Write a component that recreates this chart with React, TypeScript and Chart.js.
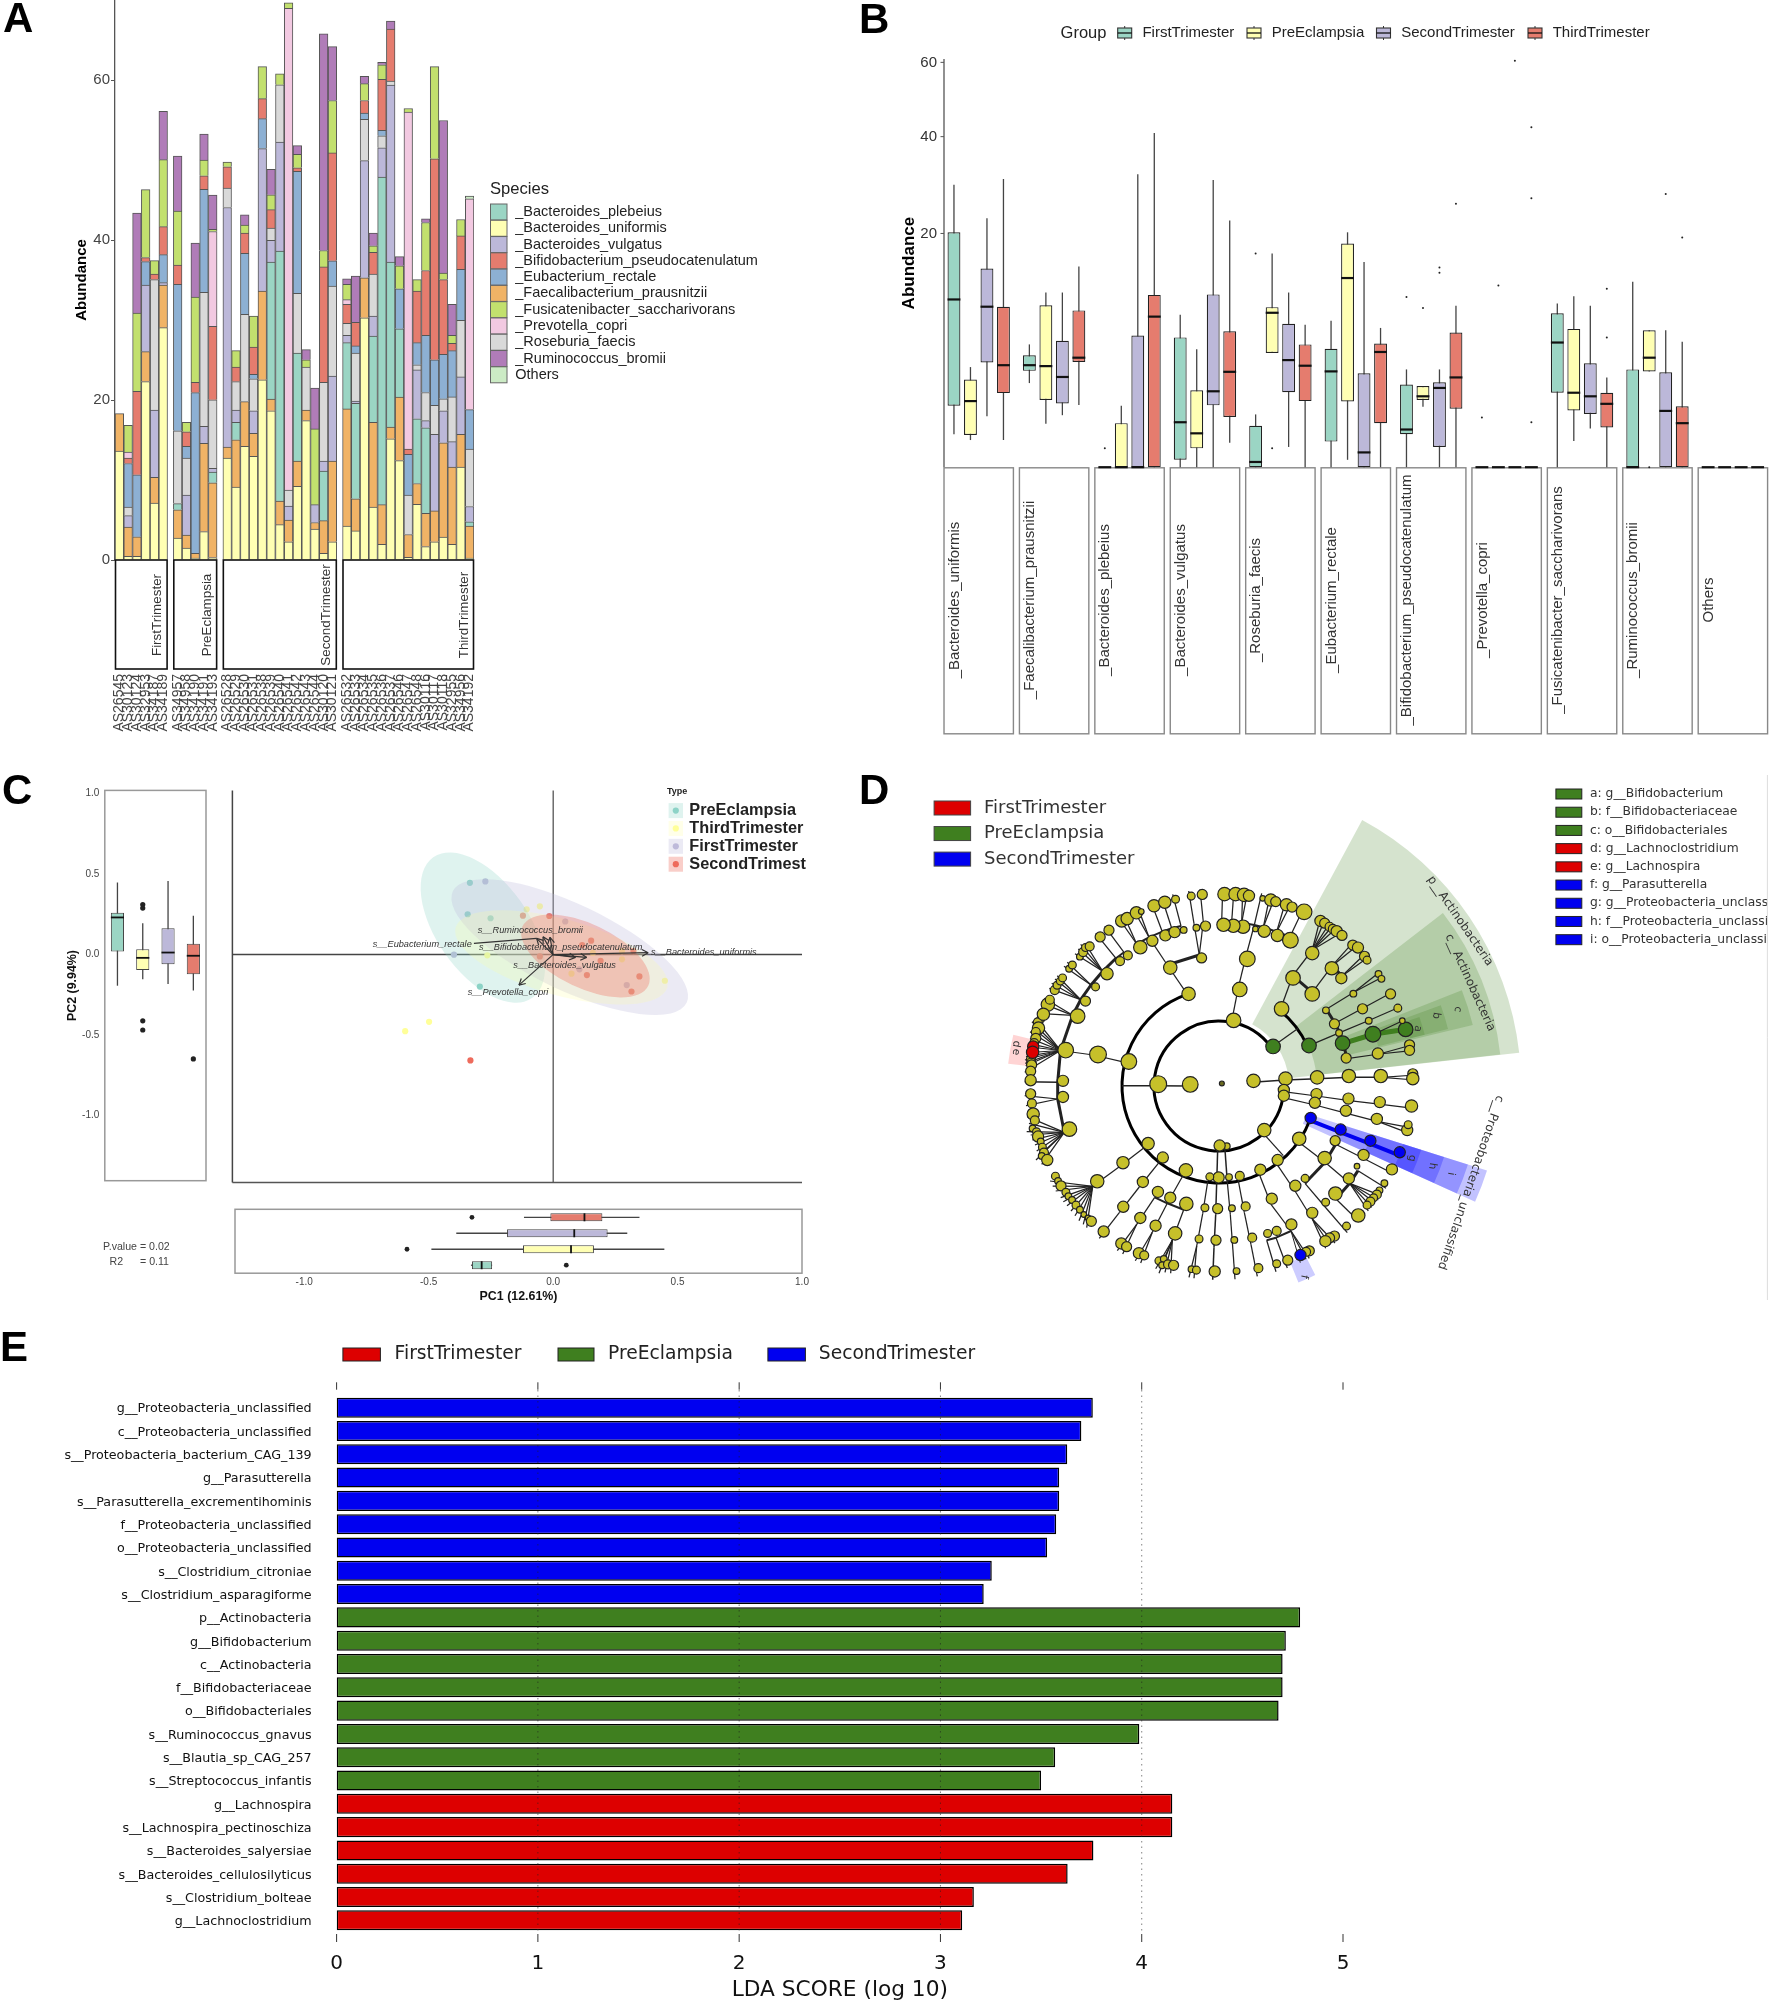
import React, { useEffect, useRef } from "react";
import { Chart, registerables } from "chart.js";

Chart.register(...registerables);
Chart.defaults.font.family = '"Liberation Sans"';
Chart.defaults.plugins.legend.display = false;
Chart.defaults.plugins.tooltip.enabled = false;

const SANS = '"Liberation Sans"';
const DEJAVU = '"DejaVu Sans"';

// ---- panel A: stacked abundance per sample
const sampleGroups = ["FirstTrimester", "PreEclampsia", "SecondTrimester", "ThirdTrimester"];
const groupSizes = [6, 5, 13, 15];
const sampleNames = [
  "AS26545", "AS30123", "AS30124", "AS32953", "AS34187", "AS34189",
  "AS34957", "AS34958", "AS34190", "AS34191", "AS34193",
  "AS26528", "AS26529", "AS26530", "AS26531", "AS26538", "AS26539", "AS26540", "AS26541", "AS26542", "AS26543", "AS26544", "AS30120", "AS30121",
  "AS26532", "AS26533", "AS26534", "AS26535", "AS26536", "AS26537", "AS26546", "AS26547", "AS26548", "AS30116", "AS30117", "AS30118", "AS32955", "AS34956", "AS34192",
];
const uniformis = [13.6, 0.45, 0.45, 22.3, 7.1, 29.04, 2.73, 1.5, 0.23, 3.55, 0.3, 12.74, 9.1, 14.2, 12.97, 22.53, 18.66, 4.42, 2.28, 9.2, 17.43, 3.87, 0.82, 2.28, 4.23, 3.64, 30.27, 6.6, 1.96, 15.16, 12.43, 0.32, 6.96, 1.68, 2.28, 2.87, 1.96, 11.61, 0.23];
const faecali = [4.7, 3.65, 2.45, 3.74, 3.23, 5.33, 3.55, 1.6, 0.6, 11.02, 9.35, 1.36, 5.92, 5.6, 2.87, 11.07, 1.46, 2.95, 2.72, 3.18, 1.32, 0.82, 4.1, 10.1, 14.66, 4.01, 5.01, 10.6, 4.96, 1.45, 7.92, 2.87, 2.6, 4.15, 3.86, 11.79, 9.65, 4.09, 4];
const plebeius = [0, 0, 0, 0, 0, 0, 0.77, 0, 0, 0, 1.35, 0, 2.18, 0, 0, 0, 17.11, 31.23, 0, 13.47, 0, 0, 6.18, 0, 8.28, 11.92, 0, 10.79, 40.96, 20.62, 8.55, 0, 8.1, 10.69, 0, 0, 0, 0, 0.55];
const vulgatus = [0, 1.45, 0, 8.33, 8.42, 0.3, 0, 5, 0, 2.13, 0.47, 29.96, 1.55, 0, 2.82, 17.83, 2.73, 13.65, 1.74, 0, 0, 2.23, 1.28, 10.61, 0.91, 0.3, 14.65, 2.51, 3.64, 22.12, 0, 0, 6.1, 0.91, 9.56, 4, 3.18, 7.19, 1.91];
const roseburia = [0, 1.05, 0, 0, 16.3, 0, 9.11, 4.64, 0, 16.75, 8.56, 2.44, 3.55, 10.92, 4, 0, 1.54, 7.15, 2, 7.47, 5.37, 0, 9.82, 11.24, 1.51, 5.98, 5.14, 5.23, 1.51, 0.5, 0, 4.91, 0.64, 3.51, 3.64, 1.5, 5.6, 7.06, 7.19];
const eubacterium = [0, 5.46, 7.75, 2.93, 0, 3.5, 18.3, 1.46, 20.1, 12.89, 0, 0, 0, 7.6, 0.55, 3.74, 0, 0, 0, 15.25, 0, 0, 0, 3.18, 0, 0.91, 0.78, 0, 0.68, 0, 5.01, 5.1, 2.77, 7.14, 5.69, 5.56, 5.78, 6.37, 4.92];
const bifido = [0, 0.69, 10.42, 0.5, 0.68, 3.5, 2.41, 1.82, 1.27, 1.68, 9.17, 2.66, 1.82, 2.55, 3.42, 2.5, 2.29, 0, 0, 0.45, 0, 0, 14.44, 13.48, 2.36, 2.96, 1.59, 2.73, 6.37, 6.51, 0, 0.68, 6.43, 8.11, 25.13, 9.33, 0.91, 4.19, 0];
const prevotella = [0, 0.75, 0, 0, 0, 0, 0, 0, 0, 0, 11.86, 0, 0, 0, 0, 0, 0, 0, 60.22, 0, 0, 0, 0, 0, 0.59, 0, 0, 0, 0, 0, 0, 42.1, 0, 0, 0, 0, 0, 0, 26.35];
const fusicatenibacter = [0, 3.34, 9.79, 8.5, 1.7, 8.37, 6.73, 1.18, 10.66, 1.96, 0.27, 0.59, 2.05, 1, 3.87, 4.01, 1.86, 1.36, 0.68, 1.68, 0.91, 9.47, 2.05, 6.55, 1.92, 0, 2.1, 0.82, 1.82, 0, 2.87, 0.46, 1.45, 6, 11.52, 0.82, 1, 2.05, 0];
const ruminococcus = [0, 0, 12.52, 0, 0, 6.05, 6.9, 0, 6.74, 3.27, 4.3, 0, 0, 1.28, 0, 0, 3.19, 0, 0, 1.1, 1.27, 5.09, 27.08, 6.74, 0.68, 5.78, 0.91, 1.59, 0.3, 1, 1.14, 0, 0, 0.46, 0, 19.07, 3.87, 0, 0];
const others = [0, 0, 0, 0, 0, 0, 0, 0, 0, 0, 0, 0, 0, 0, 0, 0, 0, 0, 0, 0, 0, 0, 0, 0, 0, 0, 0, 0, 0, 0, 0, 0, 0, 0, 0, 0, 0, 0, 0.35];

const PAL: Record<string, string> = {
  plebeius: "#9BD5C4", uniformis: "#FFFFB3", vulgatus: "#BCB8D9", bifido: "#E57C6E", eubacterium: "#8DB0D3",
  faecali: "#F0B366", fusi: "#C2E06E", prevotella: "#F2C9E1", roseburia: "#D9D9D9", rumino: "#B07CB8", others: "#CCEBC5",
};
const stackOrder: [string, number[], string][] = [
  ["_Bacteroides_uniformis", uniformis, PAL.uniformis],
  ["_Faecalibacterium_prausnitzii", faecali, PAL.faecali],
  ["_Bacteroides_plebeius", plebeius, PAL.plebeius],
  ["_Bacteroides_vulgatus", vulgatus, PAL.vulgatus],
  ["_Roseburia_faecis", roseburia, PAL.roseburia],
  ["_Eubacterium_rectale", eubacterium, PAL.eubacterium],
  ["_Bifidobacterium_pseudocatenulatum", bifido, PAL.bifido],
  ["_Prevotella_copri", prevotella, PAL.prevotella],
  ["_Fusicatenibacter_saccharivorans", fusicatenibacter, PAL.fusi],
  ["_Ruminococcus_bromii", ruminococcus, PAL.rumino],
  ["Others", others, PAL.others],
];
const speciesLegend: [string, string][] = [
  ["_Bacteroides_plebeius", PAL.plebeius], ["_Bacteroides_uniformis", PAL.uniformis], ["_Bacteroides_vulgatus", PAL.vulgatus],
  ["_Bifidobacterium_pseudocatenulatum", PAL.bifido], ["_Eubacterium_rectale", PAL.eubacterium], ["_Faecalibacterium_prausnitzii", PAL.faecali],
  ["_Fusicatenibacter_saccharivorans", PAL.fusi], ["_Prevotella_copri", PAL.prevotella], ["_Roseburia_faecis", PAL.roseburia],
  ["_Ruminococcus_bromii", PAL.rumino], ["Others", PAL.others],
];

// ---- panel B: box plots on a square root axis; each row is low, q1, median, q3, high
const boxSpecies = ["_Bacteroides_uniformis", "_Faecalibacterium_prausnitzii", "_Bacteroides_plebeius", "_Bacteroides_vulgatus", "_Roseburia_faecis", "_Eubacterium_rectale", "_Bifidobacterium_pseudocatenulatum", "_Prevotella_copri", "_Fusicatenibacter_saccharivorans", "_Ruminococcus_bromii", "Others"];
const boxGroups = ["FirstTrimester", "PreEclampsia", "SecondTrimester", "ThirdTrimester"];
const boxColors = ["#9BD5C4", "#FFFFB3", "#BCB8D9", "#E57C6E"];
const boxFirst = [[0.4, 1.38, 10.3, 20.2, 29.2], [2.59, 3.4, 3.81, 4.58, 5.52], [0, 0, 0, 0, 0], [0, 0.02, 0.74, 6.17, 8.5], [0, 0, 0.01, 0.63, 1.02], [0, 0.24, 3.36, 5.14, 7.84], [0, 0.4, 0.52, 2.5, 3.5], [0, 0, 0, 0, 0], [0, 2.03, 5.69, 8.67, 9.8], [0, 0, 0, 3.5, 12.6], [0, 0, 0, 0, 0]];
const boxPre = [[0.27, 0.38, 1.6, 2.82, 3.67], [0.69, 1.65, 3.74, 9.6, 11.17], [0, 0, 0, 0.71, 1.38], [0, 0.13, 0.42, 2.17, 5.1], [4.78, 4.78, 8.73, 9.38, 16.7], [0.02, 1.58, 13.1, 18.3, 20.2], [1.34, 1.65, 1.84, 2.41, 2.41], [0, 0, 0, 0, 0], [0.25, 1.18, 2.03, 7, 10.7], [3.36, 3.36, 4.39, 6.86, 6.86], [0, 0, 0, 0, 0]];
const boxSecond = [[0.95, 4.02, 9.43, 14.46, 22.7], [0.99, 1.49, 2.98, 5.86, 11.17], [0, 0, 0, 6.35, 31.4], [0, 1.4, 2.11, 10.93, 30.2], [0.15, 2.06, 4.2, 7.54, 11.17], [0, 0, 0.08, 3.23, 15.4], [0, 0.15, 2.3, 2.64, 3.5], [0, 0, 0, 0, 0], [0.55, 1.04, 1.84, 3.95, 9.54], [0, 0, 1.16, 3.3, 6.86], [0, 0, 0, 0, 0]];
const boxThird = [[0.27, 2.01, 3.81, 9.43, 30.4], [1.42, 4.06, 4.39, 9, 14.74], [0, 0, 8.3, 10.87, 40.9], [0.22, 0.92, 3.33, 6.77, 22.3], [0, 1.6, 3.77, 5.52, 7.44], [0, 0.71, 4.86, 5.6, 7.1], [0, 1.25, 2.95, 6.63, 9.54], [0, 0, 0, 0, 0], [0, 0.58, 1.47, 2.03, 2.95], [0, 0, 0.71, 1.36, 5.77], [0, 0, 0, 0, 0]];
const outFirst = [[], [], [0.13], [], [16.7], [], [10.6], [0.9], [], [], []];
const outPre = [[], [], [], [], [0.13], [], [9.27], [12.1], [], [0], []];
const outSecond = [[], [], [], [], [], [], [14.6, 13.85], [60.5], [], [27.3], []];
const outThird = [[], [], [], [], [], [], [25.4], [42.3, 26.5, 0.74], [11.66, 6.17], [19.3], []];

// ---- panel C: ordination points, PC1 / PC2
const pcaGroups = ["PreEclampsia", "ThirdTrimester", "FirstTrimester", "SecondTrimest"];
const pcaColors = ["#8DD3C7", "#FFFF99", "#BEBADA", "#EE6B5C"];
const prePoints = [[-0.334, 0.446], [-0.343, 0.251], [-0.251, 0.226], [-0.294, -0.198]];
const thirdPoints = [[-0.106, 0.282], [-0.053, 0.3], [-0.264, -0.004], [0.16, 0.011], [0.277, -0.029], [0.277, 0.022], [0.074, -0.118], [0.449, -0.162], [-0.498, -0.417], [-0.594, -0.475]];
const firstPoints = [[-0.272, 0.455], [0.049, 0.206], [-0.398, 0], [0.106, -0.091], [0.296, -0.189]];
const secondPoints = [[-0.121, 0.242], [-0.015, 0.24], [0.153, 0.087], [0.117, 0.06], [-0.053, -0.011], [0.323, 0.022], [0.191, -0.038], [0.136, -0.127], [0.347, -0.135], [0.315, -0.229], [-0.332, -0.657]];
// cx, cy, semi axis a, semi axis b, tilt in degrees
const pcaEllipses = [[-0.282, 0.168, 86, 46, 54.8], [0.067, 0.047, 129.5, 43, 25.5], [0.034, -0.017, 110, 38, 15.7], [0.13, -0.008, 69.5, 32, 25.3]];
const pcaEllipseColors = ["rgba(141,211,199,.28)", "rgba(190,186,218,.3)", "rgba(255,255,153,.22)", "rgba(238,107,92,.33)"];
const loadingEnds = [[0.382, 0.012], [0.135, -0.017], [0.09, -0.017], [-0.137, -0.189], [-0.04, 0.111], [-0.066, 0.101], [-0.012, 0.108]];
const loadingTail = [[-0.066, 0.101], [-0.318, 0.07]];
const loadingNames: [string, number, number][] = [
  ["s__Ruminococcus_bromii", 477.7, 930], ["s__Eubacterium_rectale", 372.7, 944], ["s__Bifidobacterium_pseudocatenulatum", 479, 947.3],
  ["s__Bacteroides_uniformis", 651, 952.7], ["s__Bacteroides_vulgatus", 513.3, 965.7], ["s__Prevotella_copri", 467.7, 992.7],
];
const pc2Boxes = [[-0.193, 0.02, 0.231, 0.26, 0.448], [-0.153, -0.095, -0.02, 0.033, 0.195], [-0.182, -0.06, 0.013, 0.164, 0.457], [-0.222, -0.122, -0.007, 0.067, 0.242]];
const pc2Outliers = [[], [0.311, 0.289, -0.411, -0.468], [], [-0.648]];
const pc1Boxes = [[-0.117, -0.011, 0.126, 0.198, 0.347], [-0.389, -0.185, 0.085, 0.219, 0.298], [-0.489, -0.121, 0.072, 0.164, 0.447], [-0.33, -0.326, -0.287, -0.245, -0.245]];
const pc1Outliers = [[-0.326], [], [-0.587], [0.053]];
const axisTicksPC = [-1, -0.5, 0, 0.5, 1];

// ---- panel D: cladogram rows are id, x, y, radius, parent ("^" = row above), branch width, clade colour
type CladeRow = [string, number, number, number, string, number?, string?];
const cladeRows: CladeRow[] = [
  ["", 1220, 1085, 2.2, "", 1, "k"], ["k1", 1187.7, 1086, 7, ""], ["o1", 1155, 1085.7, 7.5, "k1", 1.5], ["", 1122, 1085.7, 0, "o1", 1.5],
  ["c1", 1125, 1062.3, 7, ""], ["g1", 1093.5, 1055, 7.5, "c1"], ["h1", 1060.5, 1050.5, 7, "g1"],
  ["", 1035, 1018.3, 3.5, "h1"], ["", 1032, 1021.7, 4, "h1"], ["", 1032.7, 1027.7, 5.5, "h1"], ["", 1030, 1031.7, 4, "h1"], ["", 1030, 1038.3, 4.5, "h1"], ["", 1028.3, 1043.3, 4, "h1"], ["", 1027.3, 1046.7, 5, "h1", 1, "r"], ["", 1026, 1056.7, 3.5, "h1"], ["", 1025, 1060, 4, "h1"], ["", 1025.3, 1063.3, 4, "h1"], ["", 1025.7, 1065.7, 4.5, "h1"], ["", 1024.7, 1072.3, 4.5, "h1"], ["", 1026.7, 1052.7, 5.5, "h1", 1, "r"],
  ["h2", 1072.7, 1015.3, 6.5, "h1", 3], ["", 1042.3, 1003.3, 6, "h2"], ["", 1044.3, 998.3, 4, "h2"], ["", 1037.7, 1013.3, 5.5, "h2"],
  ["h3", 1080.7, 999.7, 4.5, "h2", 3], ["", 1049.3, 988.3, 4, "h3"], ["", 1051.7, 983.3, 3.5, "h3"], ["", 1055, 979, 3.5, "h3"], ["", 1057.3, 975.7, 3.5, "h3"],
  ["h4", 1091, 985, 3.5, "h3", 3], ["", 1064, 966.3, 3, "h4"], ["", 1067.3, 962.3, 3.5, "h4"],
  ["h5", 1102.7, 971.3, 5.5, "h4", 3], ["", 1075, 953.7, 3, "h5"], ["", 1078.3, 949, 4, "h5"], ["", 1080.7, 944.3, 3.5, "h5"], ["", 1085, 943, 4, "h5"],
  ["h6", 1116, 958.3, 4, "h5", 3], ["", 1095.7, 933.3, 4.5, "h6"],
  ["h7", 1124, 952.3, 4, "h6", 2], ["", 1104.7, 926.3, 4.5, "h7"],
  ["h0", 1057.7, 1082.3, 5, "h1", 3], ["", 1024.7, 1081.7, 5, "h0", 1.5],
  ["h8", 1057.7, 1099, 5, "h0", 3], ["", 1024.7, 1095.7, 4.5, "h8"], ["", 1026, 1105.7, 4, "h8"],
  ["h9", 1064.3, 1132.3, 6.5, "h8", 3], ["", 1027.3, 1116.7, 5.5, "h9"], ["", 1029, 1123.3, 4, "h9"], ["", 1026.7, 1131.7, 3, "h9"], ["", 1030.7, 1135, 3.5, "h9"], ["", 1032.3, 1140, 5, "h9"], ["", 1035, 1145, 3, "h9"], ["", 1036.7, 1151, 3.5, "h9"], ["", 1038.3, 1156.7, 4, "h9"], ["", 1036, 1160, 3, "h9"], ["", 1041.7, 1164.3, 5, "h9"],
  ["c2", 1186, 992.3, 6, ""], ["g2", 1167.3, 965, 6, "c2"], ["g3", 1199.3, 955, 4.5, "g2", 3], ["f1", 1149, 937.3, 5, "g2"], ["f0", 1136.7, 944, 6, "f1", 2], ["f2", 1162.3, 931.7, 5, "f1", 2], ["f3", 1171.7, 928.3, 5, "f2", 2], ["f4", 1181, 926, 3, "f3", 2],
  ["", 1117.7, 916.7, 5.5, "f0"], ["", 1123.3, 914.3, 5.5, "f0"], ["", 1132.7, 908.3, 5.5, "f1"], ["", 1137.7, 907, 2.5, "f1"], ["", 1150.7, 901, 5.5, "f2"], ["", 1161.7, 897.3, 5.5, "f3"], ["", 1172.7, 894.3, 3.5, "f4"],
  ["e1", 1194, 923.7, 3, "g3"], ["", 1188.7, 891, 3.5, "^"], ["e2", 1203.3, 922, 4.5, "g3"], ["", 1200, 889.3, 4.5, "^"],
  ["c3", 1232, 1019.7, 6.5, ""], ["g4", 1238.3, 987.7, 6.5, "c3"], ["g5", 1246, 956, 7, "g4"],
  ["t4", 1254.3, 925, 2.5, "g5"], ["t3", 1241.7, 922.7, 6, "t4", 2], ["t2", 1231.7, 921.7, 6, "t3", 2], ["t1", 1221.7, 920.7, 6, "t2", 2], ["t5", 1263.3, 927.3, 5.5, "t4", 2], ["t6", 1276.7, 931.7, 5.5, "t5", 2], ["t7", 1290, 936.7, 7, "t6", 2],
  ["", 1222.7, 889, 6, "t1"], ["", 1234, 889, 6, "t2"], ["", 1242.7, 889.7, 6, "t3"], ["", 1247.7, 890.7, 5, "t3"], ["", 1261.7, 893.3, 2.5, "t4"], ["", 1270, 895, 5.5, "t5"], ["", 1275, 896.7, 4.5, "t5"], ["", 1286, 900, 5.5, "t6"], ["", 1291.7, 902.3, 4.5, "t6"], ["", 1304, 907.3, 7, "t7"],
  ["a1", 1272.3, 1046.7, 6.5, "", 1, "g"], ["", 1298.3, 1028.3, 0, "a1"], ["c4", 1281, 1007.7, 6.5, ""], ["c5", 1309, 1045.7, 6.5, "", 1, "g"],
  ["g6", 1292.7, 975.7, 6.5, "c4"], ["g7", 1312.3, 992.3, 6.5, "g6", 3], ["f5", 1312.3, 950, 6, "g6"],
  ["", 1320.7, 916.7, 5, "f5"], ["", 1325, 919, 4.5, "f5"], ["", 1330, 922.7, 4, "f5"], ["", 1333.3, 925, 4, "f5"], ["", 1337.3, 927.3, 5, "f5"], ["", 1342.7, 931.7, 4.5, "f5"],
  ["f6", 1332.3, 965.7, 6, "g7"], ["", 1353.7, 941.7, 4.5, "f6"], ["", 1359, 944.3, 5, "f6"], ["f7", 1342, 976, 5, "f6", 3], ["", 1365.7, 953.3, 4.5, "f7"], ["", 1368.3, 957.3, 3.5, "f7"],
  ["o2", 1339.7, 1032.7, 3, "c5"], ["o3", 1335, 1023.3, 4.5, "o2", 3], ["o4", 1326.3, 1009.3, 3, "o3", 3], ["o5", 1343.3, 1043.3, 6.5, "o2", 3, "g"], ["o6", 1347, 1058.7, 4.5, "o5", 3],
  ["p4", 1354.3, 992, 3, "o4"], ["", 1380, 971.7, 3, "p4"], ["", 1383, 976.7, 3, "p4"], ["", 1363.7, 1007.7, 4.5, "o3"], ["", 1392.3, 992.3, 4.5, "^"], ["", 1370, 1020, 3, "o2"], ["", 1399.7, 1007, 3.5, "^"],
  ["a2", 1374.3, 1034, 7, "o5", 5, "g"], ["", 1407.7, 1029, 6.5, "a2", 5, "g"], ["", 1404.3, 1020, 2.5, "a2"],
  ["p6", 1379.3, 1054, 5, "o6"], ["", 1411.7, 1045, 4.5, "p6"], ["", 1411.7, 1050.7, 4.5, "p6"],
  ["k2", 1252.3, 1082.3, 6, ""], ["", 1285, 1080, 6, "^", 1.5], ["", 1317.3, 1078.7, 6, "^", 1.5], ["", 1349.7, 1077.3, 6, "^", 1.5], ["q1", 1382.3, 1077.3, 6, "^", 1.5], ["", 1415, 1075, 4.5, "q1"], ["", 1415, 1080, 5.5, "q1"],
  ["", 1283.3, 1091.7, 5, ""], ["", 1316.7, 1096, 5, "^"], ["", 1349.3, 1100.7, 5, "^"], ["", 1381.3, 1104.3, 5, "^"], ["", 1413.7, 1108.3, 5.5, "^"],
  ["", 1283.3, 1097.7, 5, ""], ["", 1315, 1105, 5, "^"], ["", 1346.7, 1113.3, 5, "^"], ["q2", 1378.3, 1121.7, 5, "^"], ["", 1409.3, 1133.3, 5, "q2"], ["", 1410.3, 1127.7, 3.5, "q2"],
  ["d3", 1263.3, 1133.3, 6, ""], ["", 1283.3, 1155.7, 0, "d3"], ["d4", 1225, 1150, 3, ""], ["d5", 1217.7, 1149.3, 5, ""],
  ["e3", 1227.3, 1182, 3, "d4", 1.5], ["e4", 1216.7, 1182.3, 5, "d5", 1.5], ["e5", 1207.7, 1181.7, 3.5, ""], ["e6", 1183.3, 1175, 6, ""], ["e7", 1159.7, 1161.7, 5, ""], ["e8", 1144.7, 1147.3, 5.5, ""], ["e9", 1238.3, 1180.7, 4, ""], ["e10", 1259.3, 1174.3, 5, ""], ["e11", 1277, 1164.3, 5, ""], ["e12", 1299, 1142.3, 6, ""],
  ["", 1215.7, 1214.7, 4.5, "e4", 1.5], ["", 1214, 1247.3, 4.5, "^", 1.5], ["", 1212.7, 1279.7, 5, "^", 1.5],
  ["", 1202.7, 1213.7, 3.5, "e5"], ["r5", 1196.7, 1246, 3.5, "^"], ["", 1189, 1277.3, 3, "r5"], ["", 1194, 1278.3, 3.5, "r5"],
  ["b1", 1167.3, 1203.3, 5, "e6"], ["b2", 1154.7, 1197.3, 5, "b1", 2], ["b3", 1183.7, 1209.7, 6, "b1", 2],
  ["r2", 1136.7, 1224.3, 5, "b2"], ["", 1117.3, 1250.7, 5, "r2"], ["", 1122.7, 1254, 4.5, "r2"],
  ["r1", 1152.3, 1232.3, 5, "b1"], ["", 1135.3, 1260.7, 5, "r1"], ["", 1140.7, 1263, 4, "r1"],
  ["r3", 1172.3, 1240.3, 6, "b3"], ["", 1155.7, 1268.7, 3.5, "r3"], ["", 1160.7, 1266.7, 3, "r3"], ["", 1159, 1273.3, 3, "r3"], ["", 1165, 1272.3, 4, "r3"], ["", 1170.7, 1273.3, 4.5, "r3"],
  ["", 1139.3, 1187, 5, "e7"], ["", 1119.3, 1212.7, 5, "^"], ["", 1099.3, 1238.3, 5, "^"],
  ["", 1119, 1167, 5.5, "e8"], ["j1", 1092.7, 1186.3, 6, "^"],
  ["", 1050, 1181, 3.5, "j1"], ["", 1052.7, 1186, 3, "j1"], ["", 1055.7, 1191, 4.5, "j1"], ["", 1060.7, 1197.7, 3.5, "j1"], ["", 1063.3, 1201.7, 3, "j1"], ["", 1067, 1205.7, 3, "j1"], ["", 1071, 1211, 3.5, "j1"], ["", 1075, 1215.7, 3, "j1"], ["", 1079, 1220.7, 2.5, "j1"], ["", 1083.3, 1224.3, 2.5, "j1"], ["", 1086.7, 1227.7, 4.5, "j1"],
  ["", 1244.3, 1212.3, 4, "e9"], ["", 1251, 1244.7, 4, "^"], ["", 1257.3, 1276.3, 4, "^"],
  ["", 1230.3, 1214.3, 3, "e3"], ["", 1232.7, 1247, 3, "^"], ["", 1235, 1279.3, 3, "^"],
  ["", 1271, 1204.3, 5, "e10"], ["k5", 1291, 1231, 5, "^"], ["k6", 1276, 1237.7, 4, "k5", 2], ["k7", 1266.7, 1240.3, 3.5, "k6", 2], ["", 1287.3, 1268, 4.5, "k6"], ["", 1276, 1271.7, 3.5, "k7"], ["", 1309.3, 1258.3, 4.5, "k5"], ["", 1306, 1259.3, 4, "k5"], ["", 1300.3, 1262.7, 5, "k5", 1, "b"],
  ["", 1295, 1191, 5, "e11"], ["k8", 1312.3, 1219, 5, "^"], ["", 1335, 1243, 4.5, "k8"], ["", 1330, 1245, 4.5, "k8"], ["", 1325.7, 1248.3, 5, "k8"],
  ["m1", 1325, 1162.3, 6, "e12"], ["m2", 1335.7, 1144.3, 4.5, "m1", 3], ["m3", 1305, 1183.3, 3.5, "m1", 3], ["m4", 1349.7, 1183.3, 5, "m1"],
  ["", 1364.7, 1159, 5, "m2"], ["", 1393.7, 1174, 5, "^"], ["", 1326, 1208, 3.5, "m3"], ["", 1347.3, 1232.7, 3.5, "^"],
  ["", 1358, 1170.7, 2.5, "m4", 3], ["", 1386, 1188.3, 3, "^"], ["n2", 1336, 1199, 6, "m4", 3], ["", 1359.3, 1221.7, 6, "n2"],
  ["", 1381, 1195.7, 3, "m4"], ["", 1378.3, 1200, 4, "m4"], ["", 1375, 1203.3, 3.5, "m4"], ["", 1371.7, 1207.3, 4, "m4"], ["", 1368.3, 1211, 3.5, "m4"],
  ["e13", 1310.7, 1120.7, 5, "", 1, "b"], ["", 1341.3, 1132.7, 5, "^", 4, "b"], ["", 1371.7, 1144.3, 5, "^", 4, "b"], ["", 1401.7, 1156.3, 5, "^", 4, "b"],
];
// radius, start angle, end angle, counter clockwise
const cladeArcs: [number, number, number, boolean][] = [[65, -36, 10.6, true], [97, -109.3, 20.7, true], [97, -51.5, -24, false]];
// inner radius, outer radius, start angle, end angle, fill
const cladeShades: [number, number, number, number, string][] = [
  [70, 302, -61.7, -6.3, "rgba(63,128,32,.22)"], [98, 283, -37.7, -6.4, "rgba(63,128,32,.22)"], [131, 261, -21.5, -13.5, "rgba(63,128,32,.22)"], [164, 236, -20, -14, "rgba(63,128,32,.22)"], [197, 212, -19, -14, "rgba(63,128,32,.22)"],
  [92, 281, 17.5, 24.3, "rgba(0,0,255,.24)"], [128, 261, 17.5, 24.3, "rgba(0,0,255,.24)"], [160, 236, 17.5, 24.3, "rgba(0,0,255,.24)"], [193, 212, 17.5, 24.3, "rgba(0,0,255,.24)"],
  [190, 212, 63, 68, "rgba(0,0,255,.2)"], [192, 212, 186, 194, "rgba(255,0,0,.17)"],
];
const cladeLetters: [string, number, number][] = [["a", 1417.6, 1028.6], ["b", 1436, 1015.4], ["c", 1457.6, 1009.3], ["g", 1411.8, 1158.2], ["h", 1432.4, 1166], ["i", 1451, 1173.6], ["f", 1304, 1276.7], ["d", 1016, 1044], ["e", 1016, 1052]];
const cladeKeys: [string, string][] = [
  ["a: g__Bifidobacterium", "g"], ["b: f__Bifidobacteriaceae", "g"], ["c: o__Bifidobacteriales", "g"], ["d: g__Lachnoclostridium", "r"], ["e: g__Lachnospira", "r"],
  ["f: g__Parasutterella", "b"], ["g: g__Proteobacteria_unclass", "b"], ["h: f__Proteobacteria_unclassi", "b"], ["i: o__Proteobacteria_unclassi", "b"],
];
const ldaClasses = ["FirstTrimester", "PreEclampsia", "SecondTrimester"];
const CLASS: Record<string, string> = { r: "#DD0000", g: "#3F7F1F", b: "#0000F0", k: "#6B6B20" };

// ---- panel E: LDA scores
const secondFeatures = ["g__Proteobacteria_unclassified", "c__Proteobacteria_unclassified", "s__Proteobacteria_bacterium_CAG_139", "g__Parasutterella", "s__Parasutterella_excrementihominis", "f__Proteobacteria_unclassified", "o__Proteobacteria_unclassified", "s__Clostridium_citroniae", "s__Clostridium_asparagiforme"];
const secondScores = [3.757, 3.7, 3.63, 3.59, 3.59, 3.575, 3.53, 3.255, 3.215];
const preFeatures = ["p__Actinobacteria", "g__Bifidobacterium", "c__Actinobacteria", "f__Bifidobacteriaceae", "o__Bifidobacteriales", "s__Ruminococcus_gnavus", "s__Blautia_sp_CAG_257", "s__Streptococcus_infantis"];
const preScores = [4.787, 4.716, 4.7, 4.7, 4.68, 3.988, 3.57, 3.5];
const firstFeatures = ["g__Lachnospira", "s__Lachnospira_pectinoschiza", "s__Bacteroides_salyersiae", "s__Bacteroides_cellulosilyticus", "s__Clostridium_bolteae", "g__Lachnoclostridium"];
const firstScores = [4.152, 4.152, 3.76, 3.632, 3.166, 3.108];
const ldaTicks = [0, 1, 2, 3, 4, 5];

type TextOpts = { color?: string; align?: CanvasTextAlign; rot?: number };
function text(ctx: CanvasRenderingContext2D, str: string, x: number, y: number, font: string, o: TextOpts = {}) {
  ctx.save();
  ctx.translate(x, y);
  if (o.rot) ctx.rotate((o.rot * Math.PI) / 180);
  ctx.font = font;
  ctx.fillStyle = o.color || "#222";
  ctx.textAlign = o.align || "left";
  ctx.textBaseline = "middle";
  ctx.fillText(str, 0, 0);
  ctx.restore();
}
function line(ctx: CanvasRenderingContext2D, x0: number, y0: number, x1: number, y1: number, color: string, w: number) {
  ctx.strokeStyle = color;
  ctx.lineWidth = w;
  ctx.beginPath();
  ctx.moveTo(x0, y0);
  ctx.lineTo(x1, y1);
  ctx.stroke();
}
function box(ctx: CanvasRenderingContext2D, x: number, y: number, w: number, h: number, fill: string | null, stroke: string, lw: number) {
  if (fill) {
    ctx.fillStyle = fill;
    ctx.fillRect(x, y, w, h);
  }
  ctx.strokeStyle = stroke;
  ctx.lineWidth = lw;
  ctx.strokeRect(x, y, w, h);
}
const noPad = (s: any) => {
  s.paddingTop = 0;
  s.paddingBottom = 0;
  s.paddingLeft = 0;
  s.paddingRight = 0;
};

// draws whiskers (behind) or medians and outliers (in front) over floating bars; pixels are canvas relative
function boxParts(chart: any, stats: number[][][], outliers: number[][][], part: string, t: (v: number) => number, lw: number, dot: number) {
  const ctx = chart.ctx;
  const horizontal = chart.options.indexAxis === "y";
  const vs = horizontal ? chart.scales.x : chart.scales.y;
  chart.data.datasets.forEach((_: any, d: number) => {
    chart.getDatasetMeta(d).data.forEach((bar: any, i: number) => {
      const [lo, , med, , hi] = stats[d][i];
      const c = horizontal ? bar.y : bar.x;
      const half = (horizontal ? bar.height : bar.width) / 2;
      const a = vs.getPixelForValue(t(lo));
      const b = vs.getPixelForValue(t(hi));
      if (part === "whisker") {
        if (horizontal) line(ctx, a, c, b, c, "#444", 1.3);
        else line(ctx, c, a, c, b, "#444", 1.3);
      } else {
        const m = vs.getPixelForValue(t(med));
        if (horizontal) line(ctx, m, c - half, m, c + half, "#111", lw);
        else line(ctx, c - half, m, c + half, m, "#111", lw);
        ctx.fillStyle = "#222";
        outliers[d][i].forEach((v) => {
          const p = vs.getPixelForValue(t(v));
          ctx.beginPath();
          if (horizontal) ctx.arc(p, c, dot, 0, Math.PI * 2);
          else ctx.arc(c, p, dot, 0, Math.PI * 2);
          ctx.fill();
        });
      }
    });
  });
}

// raw hooks run in canvas pixels, the wrapped ones in page pixels
function overlay(left: number, top: number, before: ((ctx: any, chart: any) => void) | null, after: ((ctx: any, chart: any) => void) | null, rawBefore?: (chart: any) => void, rawAfter?: (chart: any) => void) {
  const wrap = (fn: any, raw: any, rawFirst: boolean) => (chart: any) => {
    if (raw && rawFirst) raw(chart);
    if (fn) {
      const ctx = chart.ctx;
      ctx.save();
      ctx.translate(-left, -top);
      fn(ctx, chart);
      ctx.restore();
    }
    if (raw && !rawFirst) raw(chart);
  };
  return { id: "overlay" + left + top, beforeDatasetsDraw: wrap(before, rawBefore, false), afterDatasetsDraw: wrap(after, rawAfter, true) };
}

const letter = (ctx: any, s: string, x: number, y: number) => text(ctx, s, x, y, `bold 42px ${SANS}`, { color: "#000" });

function panelA(left: number, top: number, w: number, h: number): any {
  const slots: number[] = [];
  let pos = 0;
  groupSizes.forEach((n) => {
    for (let i = 0; i < n; i++) slots.push(pos++);
    pos += 0.65;
  });
  const lastSlot = slots[slots.length - 1];
  return {
    type: "bar",
    data: {
      datasets: stackOrder.map(([label, values, color]) => ({
        label,
        data: values.map((v, i) => ({ x: slots[i], y: v > 0 ? v : null })),
        backgroundColor: color,
        borderColor: "#555",
        borderWidth: 1,
        barThickness: 8.6,
      })),
    },
    options: {
      responsive: false,
      animation: false,
      events: [],
      layout: { padding: { left: 66, top: 0, right: w - 474, bottom: 0 } },
      scales: {
        x: {
          type: "linear",
          stacked: true,
          offset: false,
          min: -0.5,
          max: lastSlot + 0.5,
          grid: { display: false, offset: false },
          border: { display: false },
          afterBuildTicks: (s: any) => { s.ticks = slots.map((v) => ({ value: v })); },
          afterFit: (s: any) => { s.height = h - 560; noPad(s); },
          ticks: {
            autoSkip: false,
            minRotation: 90,
            maxRotation: 90,
            padding: 106,
            color: "#444",
            font: { size: 14 },
            callback: (_: any, i: number) => sampleNames[i],
          },
        },
        y: {
          stacked: true,
          min: 0,
          max: 70,
          afterFit: (s: any) => { s.width = 49; noPad(s); },
          afterBuildTicks: (s: any) => { s.ticks = [0, 20, 40, 60].map((v) => ({ value: v })); },
          grid: { drawOnChartArea: false, tickLength: 4, color: "#555" },
          border: { color: "#555", width: 1.3 },
          ticks: { color: "#444", font: { size: 15 }, padding: 1 },
          title: { display: true, text: "Abundance", color: "#000", font: { size: 15, weight: "bold" }, padding: { top: 7, bottom: 0 } },
        },
      },
    },
    plugins: [
      overlay(left, top, null, (ctx, chart) => {
        letter(ctx, "A", 3, 20);
        const xs = chart.scales.x;
        let start = 0;
        groupSizes.forEach((n, g) => {
          const x0 = xs.getPixelForValue(slots[start] - 0.5) + 0.5;
          const x1 = xs.getPixelForValue(slots[start + n - 1] + 0.5) - 0.5;
          box(ctx, x0, 560, x1 - x0, 109, "#fff", "#111", 1.6);
          text(ctx, sampleGroups[g], x1 - 9.5, 615, `13.4px ${SANS}`, { rot: -90, align: "center", color: "#333" });
          start += n;
        });
        text(ctx, "Species", 490, 189, `16.6px ${SANS}`, { color: "#222" });
        speciesLegend.forEach(([name, color], i) => {
          const yc = 212 + i * 16.28;
          box(ctx, 490.5, yc - 8, 16.5, 16, color, "#666", 1);
          text(ctx, name, 515.3, yc, `14.5px ${SANS}`, { color: "#222" });
        });
      }),
    ],
  };
}

function panelB(left: number, top: number, w: number, h: number): any {
  const t = (v: number) => Math.sqrt(v);
  const stats = [boxFirst, boxPre, boxSecond, boxThird];
  const outs = [outFirst, outPre, outSecond, outThird];
  return {
    type: "bar",
    data: {
      labels: boxSpecies,
      datasets: boxGroups.map((g, d) => ({
        label: g,
        data: stats[d].map((r) => [t(r[1]), t(r[3])]),
        backgroundColor: boxColors[d],
        borderColor: "#222",
        borderWidth: 1.2,
        borderSkipped: false,
        categoryPercentage: 0.875,
        barPercentage: 0.78,
      })),
    },
    options: {
      responsive: false,
      animation: false,
      events: [],
      layout: { padding: { left: 45, top: 59, right: w - 920.6, bottom: h - 467.2 } },
      scales: {
        x: { display: false },
        y: {
          min: 0,
          max: Math.sqrt(61),
          afterFit: (s: any) => { s.width = 46; noPad(s); },
          afterBuildTicks: (s: any) => { s.ticks = [20, 40, 60].map((v) => ({ value: Math.sqrt(v) })); },
          grid: { display: false, drawTicks: false },
          border: { display: false },
          ticks: { color: "#333", font: { size: 15 }, padding: 4, callback: (v: number) => Math.round(v * v) },
          title: { display: true, text: "Abundance", color: "#000", font: { size: 17, weight: "bold" }, padding: { top: 4, bottom: 0 } },
        },
      },
    },
    plugins: [
      overlay(left, top, (ctx, chart) => {
        line(ctx, 944, 59, 944, 467.2, "#555", 1.3);
        [20, 40, 60].forEach((v) => {
          const y = chart.scales.y.getPixelForValue(Math.sqrt(v));
          line(ctx, 940.5, y, 944, y, "#555", 1);
        });
        const xs = chart.scales.x;
        boxSpecies.forEach((name, i) => {
          const x0 = xs.getPixelForValue(i) + left - 34.7;
          box(ctx, x0, 467.8, 69.4, 266, "#fff", "#888", 1.4);
          text(ctx, name, x0 + 10.5, 600, `15px ${SANS}`, { rot: -90, align: "center", color: "#333" });
        });
      }, (ctx) => {
        letter(ctx, "B", 859, 21);
        text(ctx, "Group", 1060.6, 33, `16.5px ${SANS}`, { color: "#222" });
        [1124.7, 1254, 1383.5, 1535].forEach((kx, i) => {
          line(ctx, kx, 26, kx, 40, "#333", 1);
          box(ctx, kx - 7, 28, 14, 10, boxColors[i], "#333", 1.1);
          line(ctx, kx - 7, 33, kx + 7, 33, "#111", 1.3);
          text(ctx, boxGroups[i], kx + 17.7, 33, `15px ${SANS}`, { color: "#222" });
        });
      }, (chart) => boxParts(chart, stats, outs, "whisker", t, 1, 1), (chart) => boxParts(chart, stats, outs, "median", t, 2.2, 1)),
    ],
  };
}

function panelCMain(left: number, top: number, w: number, h: number): any {
  const groups = [prePoints, thirdPoints, firstPoints, secondPoints];
  return {
    type: "scatter",
    data: {
      datasets: groups.map((pts, d) => ({
        label: pcaGroups[d],
        data: pts.map(([x, y]) => ({ x, y })),
        backgroundColor: pcaColors[d],
        borderWidth: 0,
        pointRadius: 3.1,
      })),
    },
    options: {
      responsive: false,
      animation: false,
      events: [],
      layout: { padding: { left: 232.4 - left, top: 790.4 - top, right: left + w - 802, bottom: top + h - 1182.5 } },
      scales: {
        x: { display: false, min: -1.288, max: 1 },
        y: { display: false, min: -1.415, max: 1.02 },
      },
    },
    plugins: [
      overlay(left, top, (ctx) => {
        line(ctx, 232.4, 790.4, 232.4, 1182.5, "#444", 1.5);
        line(ctx, 232.4, 1182.5, 802, 1182.5, "#555", 1.5);
        line(ctx, 232.4, 954.6, 802, 954.6, "#444", 1.5);
        line(ctx, 553.2, 790.4, 553.2, 1182.5, "#555", 1.3);
      }, (ctx, chart) => {
        const xs = chart.scales.x;
        const ys = chart.scales.y;
        const px = (v: number) => xs.getPixelForValue(v) + left;
        const py = (v: number) => ys.getPixelForValue(v) + top;
        pcaEllipses.forEach(([cx, cy, a, b, rot], i) => {
          ctx.fillStyle = pcaEllipseColors[i];
          ctx.beginPath();
          ctx.ellipse(px(cx), py(cy), a, b, (rot * Math.PI) / 180, 0, Math.PI * 2);
          ctx.fill();
        });
        loadingEnds.forEach(([ex, ey]) => {
          const x0 = px(0), y0 = py(0), x1 = px(ex), y1 = py(ey);
          line(ctx, x0, y0, x1, y1, "#333", 1.2);
          const ang = Math.atan2(y1 - y0, x1 - x0);
          [0.5, -0.5].forEach((d) => line(ctx, x1, y1, x1 - 7 * Math.cos(ang + d), y1 - 7 * Math.sin(ang + d), "#333", 1.2));
        });
        line(ctx, px(loadingTail[0][0]), py(loadingTail[0][1]), px(loadingTail[1][0]), py(loadingTail[1][1]), "#333", 1.3);
        loadingNames.forEach(([name, x, y]) => text(ctx, name, x, y, `italic 9.2px ${SANS}`, { color: "#333" }));
        text(ctx, "Type", 667, 791.4, `bold 9px ${SANS}`, { color: "#222" });
        pcaGroups.forEach((g, i) => {
          const yc = 810.6 + i * 17.87;
          ctx.fillStyle = pcaEllipseColors[i === 1 ? 2 : i === 2 ? 1 : i];
          ctx.fillRect(668.6, yc - 7.5, 14.4, 15);
          ctx.fillStyle = pcaColors[i];
          ctx.beginPath();
          ctx.arc(675.8, yc, 3.1, 0, Math.PI * 2);
          ctx.fill();
          text(ctx, g, 689.3, yc, `bold 16.3px ${SANS}`, { color: "#222" });
        });
      }),
    ],
  };
}

function panelCLeft(left: number, top: number, w: number, h: number): any {
  const t = (v: number) => v;
  return {
    type: "bar",
    data: {
      labels: pcaGroups,
      datasets: [{
        label: "PC2",
        data: pc2Boxes.map((r) => [r[1], r[3]]),
        backgroundColor: ["#9BD5C4", "#FFFFB3", "#BCB8D9", "#E57C6E"],
        borderColor: "#444",
        borderWidth: 1,
        borderSkipped: false,
        categoryPercentage: 1,
        barPercentage: 0.52,
      }],
    },
    options: {
      responsive: false,
      animation: false,
      events: [],
      layout: { padding: { left: 63, top: 790.4 - top, right: left + w - 206, bottom: top + h - 1180.7 } },
      scales: {
        x: { display: false },
        y: {
          min: -1.404,
          max: 1.02,
          afterFit: (s: any) => { s.width = 104.8 - 63; noPad(s); },
          afterBuildTicks: (s: any) => { s.ticks = axisTicksPC.map((v) => ({ value: v })); },
          grid: { display: false, drawTicks: false },
          border: { display: false },
          ticks: { color: "#444", font: { size: 10 }, padding: 5.5, callback: (v: number) => v.toFixed(1) },
          title: { display: true, text: "PC2 (9.94%)", color: "#111", font: { size: 12.4, weight: "bold" }, padding: { top: 2.5, bottom: 0 } },
        },
      },
    },
    plugins: [
      overlay(left, top, null, (ctx) => {
        box(ctx, 104.8, 790.4, 101.2, 390.3, null, "#999", 1.5);
        letter(ctx, "C", 2, 792);
      }, (chart) => boxParts(chart, [pc2Boxes], [pc2Outliers], "whisker", t, 1, 1), (chart) => boxParts(chart, [pc2Boxes], [pc2Outliers], "median", t, 1.8, 2.6)),
    ],
  };
}

function panelCBottom(left: number, top: number, w: number, h: number): any {
  const t = (v: number) => v;
  return {
    type: "bar",
    data: {
      labels: [pcaGroups[3], pcaGroups[2], pcaGroups[1], pcaGroups[0]],
      datasets: [{
        label: "PC1",
        data: pc1Boxes.map((r) => [r[1], r[3]]),
        backgroundColor: ["#E57C6E", "#BCB8D9", "#FFFFB3", "#9BD5C4"],
        borderColor: "#444",
        borderWidth: 1,
        borderSkipped: false,
        categoryPercentage: 1,
        barPercentage: 0.5,
      }],
    },
    options: {
      indexAxis: "y",
      responsive: false,
      animation: false,
      events: [],
      layout: { padding: { left: 235 - left, top: 1209.3 - top, right: left + w - 802, bottom: 0 } },
      scales: {
        y: { display: false },
        x: {
          min: -1.278,
          max: 1,
          afterFit: (s: any) => { s.height = top + h - 1273.2; noPad(s); },
          afterBuildTicks: (s: any) => { s.ticks = axisTicksPC.map((v) => ({ value: v })); },
          grid: { display: false, drawTicks: false },
          border: { display: false },
          ticks: { color: "#444", font: { size: 10 }, padding: 3, maxRotation: 0, callback: (v: number) => v.toFixed(1) },
          title: { display: true, text: "PC1 (12.61%)", color: "#111", font: { size: 12.4, weight: "bold" }, padding: { top: 0, bottom: 6 } },
        },
      },
    },
    plugins: [
      overlay(left, top, null, (ctx) => {
        box(ctx, 235, 1209.3, 567, 63.9, null, "#999", 1.5);
        text(ctx, "P.value = 0.02", 103, 1247, `10.6px ${SANS}`, { color: "#444" });
        text(ctx, "R2", 109.6, 1261.8, `10.6px ${SANS}`, { color: "#444" });
        text(ctx, "= 0.11", 140, 1261.8, `10.6px ${SANS}`, { color: "#444" });
      }, (chart) => boxParts(chart, [pc1Boxes], [pc1Outliers], "whisker", t, 1, 1), (chart) => boxParts(chart, [pc1Boxes], [pc1Outliers], "median", t, 1.8, 2.4)),
    ],
  };
}

function panelD(left: number, top: number, w: number, h: number): any {
  const byId: Record<string, CladeRow> = {};
  const parents = cladeRows.map((row, i) => {
    if (row[0]) byId[row[0]] = row;
    return row[4] === "^" ? cladeRows[i - 1] : null;
  });
  const cx = 1219, cy = 1086;
  const rad = (a: number) => (a * Math.PI) / 180;
  return {
    type: "scatter",
    data: {
      datasets: [{
        label: "Clades",
        data: cladeRows.map((r) => ({ x: r[1], y: r[2] })),
        pointRadius: cladeRows.map((r) => r[3] * 1.12),
        backgroundColor: cladeRows.map((r) => (r[6] ? CLASS[r[6]] : "#C6C02A")),
        borderColor: "#222",
        borderWidth: 1.2,
      }],
    },
    options: {
      responsive: false,
      animation: false,
      events: [],
      scales: {
        x: { display: false, min: left, max: left + w },
        y: { display: false, min: top, max: top + h, reverse: true },
      },
    },
    plugins: [
      overlay(left, top, (ctx) => {
        cladeShades.forEach(([r0, r1, a0, a1, fill]) => {
          ctx.fillStyle = fill;
          ctx.beginPath();
          ctx.arc(cx, cy, r1, rad(a0), rad(a1));
          ctx.arc(cx, cy, r0, rad(a1), rad(a0), true);
          ctx.closePath();
          ctx.fill();
        });
        cladeLetters.forEach(([s, x, y]) => text(ctx, s, x, y, `10.5px ${DEJAVU}`, { rot: 100, align: "center", color: "#333" }));
        cladeArcs.forEach(([r, a0, a1, ccw]) => {
          ctx.strokeStyle = "#000";
          ctx.lineWidth = 3;
          ctx.beginPath();
          ctx.arc(cx, cy, r, rad(a0), rad(a1), ccw);
          ctx.stroke();
        });
        cladeRows.forEach((row, i) => {
          const p = parents[i] || byId[row[4]];
          if (!p) return;
          const bold = row[5] || 1.25;
          const color = row[6] && bold > 1.25 ? CLASS[row[6]] : "#222";
          line(ctx, p[1], p[2], row[1], row[2], color, bold);
        });
        text(ctx, "p__Actinobacteria", 1460, 921, `12px ${DEJAVU}`, { rot: 55.4, align: "center", color: "#333" });
        text(ctx, "c__Actinobacteria", 1470, 982.7, `12px ${DEJAVU}`, { rot: 65.4, align: "center", color: "#333" });
        text(ctx, "c__Proteobacteria_unclassified", 1470.5, 1182.5, `12px ${DEJAVU}`, { rot: 108.8, align: "center", color: "#333" });
      }, (ctx) => {
        letter(ctx, "D", 859, 792);
        ldaClasses.forEach((c, i) => {
          const yc = 808 + i * 25.55;
          box(ctx, 934.1, yc - 7, 36.5, 14, CLASS["rgb"[i]], "#444", 1);
          text(ctx, c, 984, yc, `18px ${DEJAVU}`, { color: "#333" });
        });
        cladeKeys.forEach(([s, c], i) => {
          const yc = 794 + i * 18.21;
          box(ctx, 1555.9, yc - 5, 25.9, 10, CLASS[c], "#222", 1);
          text(ctx, s, 1590, yc, `12.3px ${DEJAVU}`, { color: "#333" });
        });
        line(ctx, 1767.4, 775, 1767.4, 1300, "#ddd", 1);
      }),
    ],
  };
}

function panelE(left: number, top: number, w: number, h: number): any {
  const labels = [...secondFeatures, ...preFeatures, ...firstFeatures];
  const values = [...secondScores, ...preScores, ...firstScores];
  const colors = [...secondScores.map(() => CLASS.b), ...preScores.map(() => CLASS.g), ...firstScores.map(() => CLASS.r)];
  return {
    type: "bar",
    data: {
      labels,
      datasets: [{
        label: "LDA SCORE (log 10)",
        data: values,
        backgroundColor: colors,
        borderColor: "#000",
        borderWidth: 1.5,
        borderSkipped: false,
        categoryPercentage: 1,
        barPercentage: 0.86,
      }],
    },
    options: {
      indexAxis: "y",
      responsive: false,
      animation: false,
      events: [],
      layout: { padding: { left: 0, top: 1396 - top, right: w - 1343, bottom: 0 } },
      scales: {
        y: {
          afterFit: (s: any) => { s.width = 336.6; noPad(s); },
          grid: { display: false },
          border: { display: false },
          ticks: { autoSkip: false, color: "#111", font: { family: DEJAVU, size: 12.7 }, padding: 17, labelOffset: 1.5 },
        },
        x: {
          min: 0,
          max: 5,
          afterFit: (s: any) => { s.height = 71; noPad(s); },
          afterBuildTicks: (s: any) => { s.ticks = ldaTicks.map((v) => ({ value: v })); },
          grid: { display: false },
          border: { display: false },
          ticks: { color: "#111", font: { family: DEJAVU, size: 20 }, padding: 12, maxRotation: 0 },
          title: { display: true, text: "LDA SCORE (log 10)", color: "#111", font: { family: DEJAVU, size: 21.7 }, padding: { top: 0, bottom: 0 } },
        },
      },
    },
    plugins: [
      overlay(left, top, null, (ctx, chart) => {
        const xs = chart.scales.x;
        ldaTicks.forEach((v) => {
          const x = xs.getPixelForValue(v);
          line(ctx, x, 1382.3, x, 1389.7, "#333", 1);
          line(ctx, x, 1934, x, 1942, "#333", 1);
          if (v > 0 && v < 5) {
            ctx.save();
            ctx.setLineDash([1.5, 4]);
            line(ctx, x, 1390, x, 1934, "rgba(30,30,30,.55)", 1);
            ctx.restore();
          }
        });
        letter(ctx, "E", 0, 1349);
        [[342.9, 37.5, 394.6], [558, 36, 608], [767.9, 37.5, 818.8]].forEach(([kx, kw, tx], i) => {
          box(ctx, kx, 1348, kw, 13, CLASS["rgb"[i]], "#222", 1);
          text(ctx, ldaClasses[i], tx, 1354.5, `18.7px ${DEJAVU}`, { color: "#222" });
        });
      }),
    ],
  };
}

function Panel({ left, top, width, height, build }: any) {
  const ref = useRef<HTMLCanvasElement | null>(null);

  useEffect(() => {
    if (!ref.current) return;
    const chart = new Chart(ref.current, build(left, top, width, height));
    return () => {
      chart.destroy();
    };
  }, []);

  return (
    <canvas
      ref={ref}
      width={width}
      height={height}
      style={{ position: "absolute", left, top, width, height, filter: "blur(0.45px)" }}
    />
  );
}

export default function App() {
  return (
    <div style={{ position: "absolute", left: 0, top: 0, width: 1772, height: 2003, overflow: "hidden", background: "#fff" }}>
      <Panel left={0} top={0} width={840} height={745} build={panelA} />
      <Panel left={850} top={0} width={922} height={745} build={panelB} />
      <Panel left={212} top={760} width={597} height={430} build={panelCMain} />
      <Panel left={0} top={760} width={212} height={430} build={panelCLeft} />
      <Panel left={0} top={1195} width={809} height={115} build={panelCBottom} />
      <Panel left={850} top={760} width={918} height={560} build={panelD} />
      <Panel left={0} top={1320} width={1772} height={683} build={panelE} />
    </div>
  );
}
